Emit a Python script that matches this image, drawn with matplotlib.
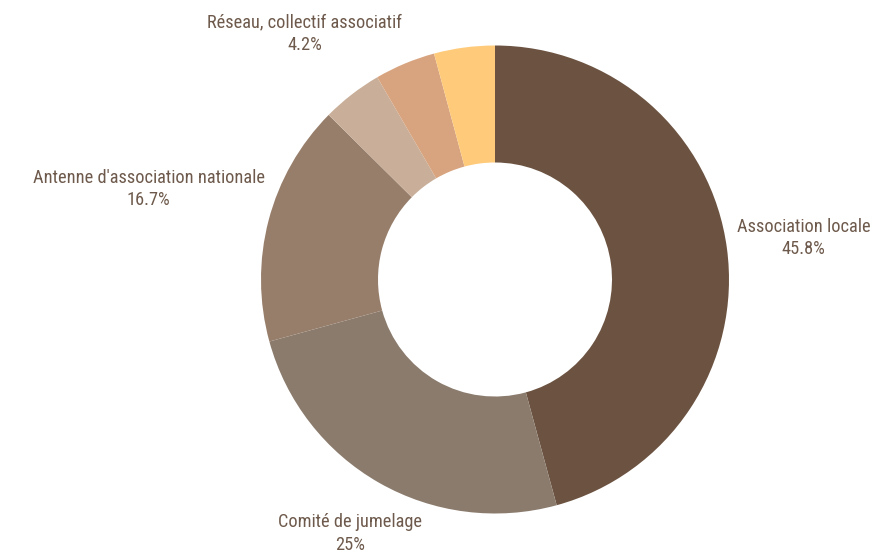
import numpy as np
import matplotlib
matplotlib.use("Agg")
import matplotlib.pyplot as plt
from matplotlib import font_manager

categories = ["Association locale", "Comité de jumelage", "Antenne d'association nationale",
              "Réseau, collectif associatif", "", ""]
values = [45.8, 25.0, 16.7, 4.2, 4.2, 4.2]
value_labels = ["45.8%", "25%", "16.7%", "4.2%", "", ""]
colors = ["#6C5341", "#8A7B6D", "#977E6B", "#C9AF99", "#D8A47F", "#FFCA7A"]
# label distance factor (style) for shown labels
label_r = [1.33, 1.25, 1.53, 1.33, None, None]

avail = {f.name for f in font_manager.fontManager.ttflist}
fam = [f for f in ["Roboto Condensed", "Liberation Sans Narrow", "Roboto", "DejaVu Sans"] if f in avail]
plt.rcParams['font.family'] = fam

W, H = 890, 558
R = 234.0
cx, cy = 495, 279.5
fig = plt.figure(figsize=(W / 100, H / 100), dpi=100)
ax = fig.add_axes([0, 0, 1, 1])
ax.axis("off")

wedges, _ = ax.pie(values, colors=colors, startangle=90, counterclock=False, radius=1.0,
                   wedgeprops=dict(width=0.5, linewidth=0), frame=False)
ax.set_xlim(-cx / R, (W - cx) / R)
ax.set_ylim(-(H - cy) / R, cy / R)
ax.set_aspect("auto")

tot = sum(values)
cum = 0.0
for v, name, vl, lr in zip(values, categories, value_labels, label_r):
    mid = (cum + v / 2) / tot
    cum += v
    if not name or lr is None:
        continue
    a = np.deg2rad(90 - 360 * mid)
    ax.text(lr * np.cos(a), lr * np.sin(a), f"{name}\n{vl}", ha="center", va="center",
            fontsize=13.2, color="#6E5A4C", linespacing=1.32)

fig.savefig("out.png", dpi=100, facecolor="white")
